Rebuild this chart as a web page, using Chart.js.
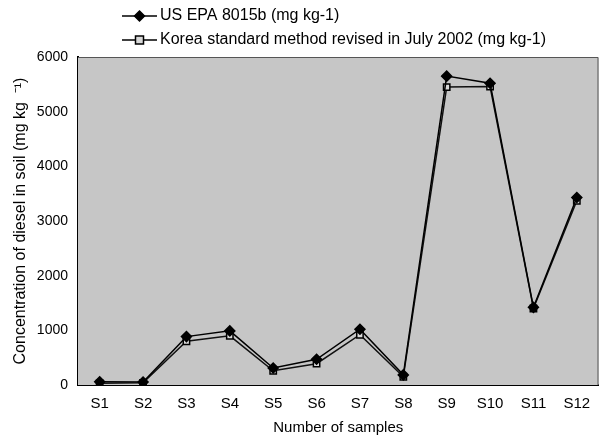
<!DOCTYPE html>
<html>
<head>
<meta charset="utf-8">
<script src="https://cdn.jsdelivr.net/npm/chart.js@4"></script>
<style>
  html, body { margin: 0; padding: 0; background: #fff; }
  #wrap { width: 605px; height: 437px; }
</style>
</head>
<body>
<div id="wrap"><canvas id="dieselChart"></canvas></div>
<script>
const samples = ["S1", "S2", "S3", "S4", "S5", "S6", "S7", "S8", "S9", "S10", "S11", "S12"];
const epa8015b = [60, 55, 885, 990, 310, 470, 1020, 185, 5650, 5520, 1420, 3430];
const koreaStd = [30, 40, 800, 900, 260, 390, 920, 150, 5450, 5460, 1400, 3370];
const yTicks = [0, 1000, 2000, 3000, 4000, 5000, 6000];

const FONT = "'Liberation Sans', Arial, sans-serif";

// grey plot background + thin top/right frame
const plotFrame = {
  id: "plotFrame",
  beforeDatasetsDraw(chart) {
    const { ctx, chartArea: a } = chart;
    ctx.save();
    ctx.fillStyle = "#c6c6c6";
    ctx.fillRect(a.left, a.top, a.right - a.left, a.bottom - a.top);
    ctx.strokeStyle = "#555";
    ctx.lineWidth = 1;
    ctx.beginPath();
    ctx.moveTo(a.left, a.top + 0.5);
    ctx.lineTo(a.right - 0.5, a.top + 0.5);
    ctx.lineTo(a.right - 0.5, a.bottom);
    ctx.stroke();
    ctx.restore();
  }
};

// two-row legend with line + marker, like the original
const rowLegend = {
  id: "rowLegend",
  afterDraw(chart) {
    const ctx = chart.ctx;
    ctx.save();
    ctx.font = "16px " + FONT;
    ctx.textBaseline = "middle";
    chart.data.datasets.forEach((ds, i) => {
      const y = 16 + i * 24;
      const x0 = 122, x1 = 157, xm = (x0 + x1) / 2;
      ctx.strokeStyle = "#000";
      ctx.lineWidth = 1.5;
      ctx.beginPath();
      ctx.moveTo(x0, y);
      ctx.lineTo(x1, y);
      ctx.stroke();
      ctx.fillStyle = ds.pointBackgroundColor;
      ctx.beginPath();
      if (ds.pointStyle === "rectRot") {
        ctx.moveTo(xm, y - 5); ctx.lineTo(xm + 5, y);
        ctx.lineTo(xm, y + 5); ctx.lineTo(xm - 5, y);
        ctx.closePath();
      } else {
        ctx.rect(xm - 4, y - 4, 8, 8);
      }
      ctx.fill();
      ctx.stroke();
      ctx.fillStyle = "#000";
      ctx.fillText(ds.label, 160, y);
    });
    ctx.restore();
  }
};

const data = {
  labels: samples,
  datasets: [
    {
      label: "US EPA 8015b (mg kg-1)",
      data: epa8015b,
      borderColor: "#000",
      borderWidth: 1.5,
      pointStyle: "rectRot",
      pointRadius: 5,
      pointBackgroundColor: "#000",
      pointBorderColor: "#000",
      tension: 0
    },
    {
      label: "Korea standard method revised in July 2002 (mg kg-1)",
      data: koreaStd,
      borderColor: "#111",
      borderWidth: 1.5,
      pointStyle: "rect",
      pointRadius: 4.5,
      pointBackgroundColor: "#d8d8d8",
      pointBorderColor: "#000",
      pointBorderWidth: 1.5,
      tension: 0
    }
  ]
};

const config = {
  type: "line",
  data: data,
  options: {
    responsive: true,
    maintainAspectRatio: false,
    animation: false,
    layout: { padding: { top: 57, right: 5, left: 0, bottom: 0 } },
    plugins: {
      legend: { display: false },
      tooltip: { enabled: false }
    },
    scales: {
      x: {
        offset: true,
        grid: { display: false, drawTicks: false },
        border: { color: "#000", width: 2 },
        ticks: { color: "#000", padding: 10, font: { family: FONT, size: 15 } },
        title: {
          display: true,
          text: "Number of samples",
          color: "#000",
          padding: { top: 4, bottom: 0 },
          font: { family: FONT, size: 15 }
        },
        afterFit: (s) => { s.height = 52; }
      },
      y: {
        min: 0,
        max: 6000,
        afterBuildTicks: (s) => { s.ticks = yTicks.map((v) => ({ value: v })); },
        grid: { display: false, drawTicks: false },
        border: { color: "#000", width: 2 },
        ticks: {
          color: "#000",
          padding: 10,
          font: { family: FONT, size: 14 },
          callback: (v) => String(v)
        },
        title: {
          display: true,
          text: "Concentration of diesel in soil (mg kg  \u207B\u00B9)",
          color: "#000",
          padding: { top: 11, bottom: 0 },
          font: { family: FONT, size: 16 }
        },
        afterFit: (s) => { s.width = 78; }
      }
    }
  },
  plugins: [plotFrame, rowLegend]
};

window.onload = function () {
  const ctx = document.getElementById("dieselChart").getContext("2d");
  new Chart(ctx, config);
};
</script>
</body>
</html>
